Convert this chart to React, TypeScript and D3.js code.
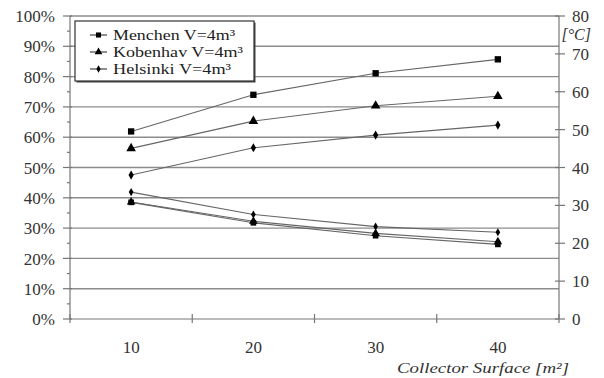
import React from "react";
import * as d3 from "d3";

const categories = ["10", "20", "30", "40"];
const leftTicks = [0, 10, 20, 30, 40, 50, 60, 70, 80, 90, 100];
const rightTicks = [0, 10, 20, 30, 40, 50, 60, 70, 80];
const seriesNames = ["Menchen V=4m³", "Kobenhav V=4m³", "Helsinki V=4m³"];
const seriesSymbols = ["square", "triangle", "diamond"];
// upper curves, percent (left axis)
const menchenPct = [61.9, 74.0, 81.1, 85.7];
const kobenhavPct = [56.3, 65.3, 70.4, 73.5];
const helsinkiPct = [47.5, 56.5, 60.7, 64.0];
// lower curves, °C (right axis)
const menchenTemp = [30.8, 25.4, 22.0, 19.7];
const kobenhavTemp = [30.9, 25.8, 22.6, 20.4];
const helsinkiTemp = [33.5, 27.6, 24.4, 22.9];

const W = 604, H = 378;
const X0 = 70, X1 = 559, Y0 = 16, Y1 = 319;
const FONT = "\"Liberation Serif\", \"DejaVu Serif\", serif";
const legendWidths = [122, 130, 118];

function symbolPath(kind: string, size: number) {
  const t = kind === "square" ? d3.symbolSquare : kind === "triangle" ? d3.symbolTriangle : d3.symbolDiamond;
  const s = kind === "diamond" ? size * 0.6 : size;
  return d3.symbol().type(t).size(s)()!;
}

export default function App() {
  const x = d3.scaleBand().domain(categories).range([X0, X1]).paddingInner(0).paddingOuter(0);
  const yL = d3.scaleLinear().domain([0, 100]).range([Y1, Y0]);
  const yR = d3.scaleLinear().domain([0, 80]).range([Y1, Y0]);
  const cx = (c: string) => x(c)! + x.bandwidth() / 2;

  const upper = [menchenPct, kobenhavPct, helsinkiPct];
  const lower = [menchenTemp, kobenhavTemp, helsinkiTemp];
  const lineL = d3.line<number>().x((_, i) => cx(categories[i])).y((d) => yL(d));
  const lineR = d3.line<number>().x((_, i) => cx(categories[i])).y((d) => yR(d));
  const minor = d3.range(5, 100, 10);
  const bounds = [...categories.map((c) => x(c)!), X1];
  const ts = { fontFamily: FONT };
  const rowY = (i: number) => 35 + i * 17;

  return (
    <svg width={W} height={H} style={{ position: "absolute", left: 0, top: 0, background: "#fff", fontFamily: FONT }}>
      <rect width={W} height={H} fill="#fff" />
      {/* gridlines */}
      {leftTicks.filter((t) => t > 0).map((t) => (
        <line key={"g" + t} x1={X0} x2={X1} y1={yL(t)} y2={yL(t)} stroke="#8c8c8c" strokeWidth={1.4} />
      ))}
      {/* left axis */}
      <line x1={X0} x2={X0} y1={Y0} y2={Y1} stroke="#777" strokeWidth={1.2} />
      {leftTicks.map((t) => (
        <g key={"l" + t}>
          <line x1={X0 - 7} x2={X0 + 2} y1={yL(t)} y2={yL(t)} stroke="#777" strokeWidth={1.2} />
          <text x={55} y={yL(t)} dy="0.36em" textAnchor="end" fontSize={17} fill="#333" style={ts}>{t}%</text>
        </g>
      ))}
      {minor.map((t) => (
        <line key={"m" + t} x1={X0 - 3} x2={X0} y1={yL(t)} y2={yL(t)} stroke="#777" strokeWidth={1.2} />
      ))}
      {/* right axis */}
      <line x1={X1} x2={X1} y1={Y0} y2={Y1} stroke="#777" strokeWidth={1.2} />
      {rightTicks.map((t) => (
        <g key={"r" + t}>
          <line x1={X1 - 4} x2={X1 + 6} y1={yR(t)} y2={yR(t)} stroke="#777" strokeWidth={1.2} />
          <text x={572} y={yR(t)} dy="0.36em" textAnchor="start" fontSize={17} fill="#333" style={ts}>{t}</text>
        </g>
      ))}
      <text x={591} y={40} textAnchor="end" fontSize={16} fontStyle="italic" fill="#333" style={ts}>[°C]</text>
      {/* x axis */}
      <line x1={X0} x2={X1} y1={Y1} y2={Y1} stroke="#777" strokeWidth={1.2} />
      {bounds.map((b, i) => (
        <line key={"xb" + i} x1={b} x2={b} y1={Y1 - 5} y2={Y1 + 4} stroke="#777" strokeWidth={1.2} />
      ))}
      {categories.map((c) => (
        <text key={"xl" + c} x={cx(c)} y={353} textAnchor="middle" fontSize={17} fill="#333" style={ts}>{c}</text>
      ))}
      <text x={397} y={373} textLength={172} lengthAdjust="spacingAndGlyphs" fontSize={15} fontStyle="italic" fill="#333" style={ts}>Collector Surface [m²]</text>
      {/* series */}
      {upper.map((s, i) => (
        <g key={"u" + i}>
          <path d={lineL(s)!} fill="none" stroke="#666" strokeWidth={1.1} />
          {s.map((v, j) => (
            <path key={j} d={symbolPath(seriesSymbols[i], 40)} transform={`translate(${cx(categories[j])},${yL(v)})`} fill="#000" />
          ))}
        </g>
      ))}
      {lower.map((s, i) => (
        <g key={"lo" + i}>
          <path d={lineR(s)!} fill="none" stroke="#666" strokeWidth={1.1} />
          {s.map((v, j) => (
            <path key={j} d={symbolPath(seriesSymbols[i], 32)} transform={`translate(${cx(categories[j])},${yR(v)})`} fill="#000" />
          ))}
        </g>
      ))}
      {/* legend */}
      <rect x={76.5} y={22.5} width={179} height={60} fill="#444" />
      <rect x={75} y={21} width={179} height={60} fill="#fff" stroke="#333" strokeWidth={1.2} />
      {seriesNames.map((n, i) => (
        <g key={"lg" + i}>
          <line x1={90} x2={107} y1={rowY(i)} y2={rowY(i)} stroke="#444" strokeWidth={1.2} />
          <path d={symbolPath(seriesSymbols[i], 26)} transform={`translate(98.5,${rowY(i)})`} fill="#000" />
          <text x={113} y={rowY(i)} dy="0.36em" fontSize={14.5} textLength={legendWidths[i]} lengthAdjust="spacingAndGlyphs" fill="#222" style={ts}>{n}</text>
        </g>
      ))}
    </svg>
  );
}
